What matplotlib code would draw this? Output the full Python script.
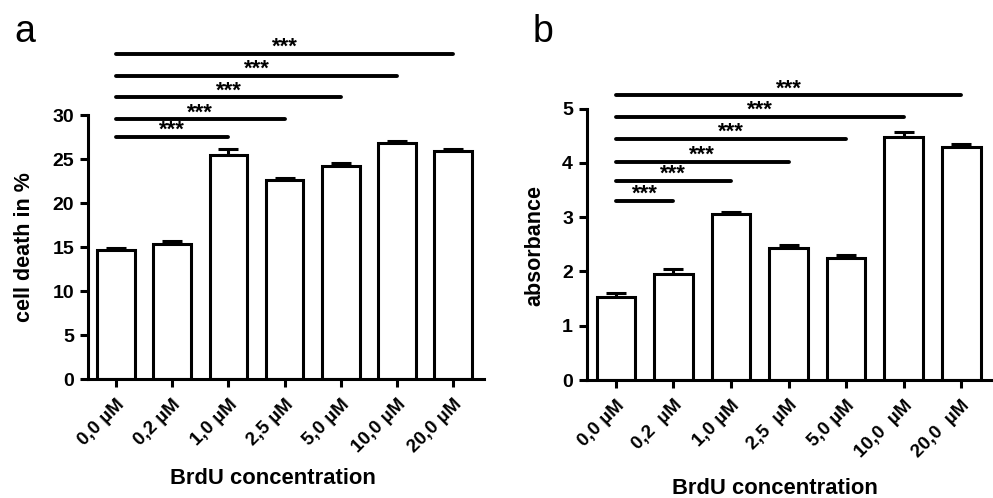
import matplotlib
matplotlib.use("Agg")
import matplotlib.pyplot as plt
import numpy as np

plt.rcParams['font.family'] = ['Liberation Sans', 'DejaVu Sans']

# ---- data ----
labels_a = ["0,0 µM", "0,2 µM", "1,0 µM", "2,5 µM", "5,0 µM", "10,0 µM", "20,0 µM"]
death_mean = [14.7, 15.3, 25.4, 22.6, 24.2, 26.8, 25.9]
death_err = [0.15, 0.35, 0.7, 0.2, 0.35, 0.3, 0.25]
sig_a_end = [2, 3, 4, 5, 6]
sig_a_y = [27.5, 29.5, 32.0, 34.4, 36.9]

labels_b = ["0,0 µM", "0,2  µM", "1,0 µM", "2,5  µM", "5,0 µM", "10,0  µM", "20,0  µM"]
abs_mean = [1.53, 1.96, 3.05, 2.43, 2.24, 4.48, 4.29]
abs_err = [0.08, 0.08, 0.04, 0.05, 0.07, 0.09, 0.05]
sig_b_end = [1, 2, 3, 4, 5, 6]
sig_b_y = [3.30, 3.66, 4.02, 4.44, 4.84, 5.24]

W, H = 993, 498
fig = plt.figure(figsize=(W / 100, H / 100), dpi=100)

LW = 2.2


def panel(rect, labels, means, errs, ends, sig_y, ylim, yticks):
    ax = fig.add_axes(rect)
    x = np.arange(len(means))
    ax.bar(x, means, width=0.67, color='white', edgecolor='black', linewidth=LW, zorder=2)
    ax.errorbar(x, means, yerr=[np.zeros(len(errs)), errs], fmt='none', ecolor='black',
                elinewidth=LW, capsize=7.5, capthick=LW, zorder=1)
    ax.set_xlim(-0.5, 6.55)
    ax.set_ylim(*ylim)
    ax.set_yticks(yticks)
    ax.set_xticks(x)
    ax.set_xticklabels(labels, rotation=45, ha='right', va='top', rotation_mode='anchor',
                       fontsize=13.5, fontweight='bold')
    for t in ax.get_yticklabels():
        t.set_fontsize(14)
        t.set_fontweight('bold')
    for s in ['top', 'right']:
        ax.spines[s].set_visible(False)
    for s in ['left', 'bottom']:
        ax.spines[s].set_linewidth(LW)
        ax.spines[s].set_zorder(3)
    ax.tick_params(axis='both', width=LW, length=6)
    ax.tick_params(axis='y', pad=4)
    ax.tick_params(axis='x', pad=6)
    for j, yy in zip(ends, sig_y):
        ax.plot([0, j], [yy, yy], color='black', lw=2.8, solid_capstyle='round', clip_on=False)
        ax.annotate('***', xy=(j / 2, yy), xytext=(0, 0.8), textcoords='offset points',
                    ha='center', va='baseline', fontsize=16, fontweight='bold',
                    annotation_clip=False)
    return ax


axA = panel([88 / W, 1 - 379 / H, (484 - 88) / W, (379 - 115) / H], labels_a, death_mean, death_err,
            sig_a_end, sig_a_y, (0, 30), range(0, 31, 5))
axB = panel([587 / W, 1 - 380 / H, (993 - 587) / W, (380 - 108.5) / H], labels_b, abs_mean, abs_err,
            sig_b_end, sig_b_y, (0, 5), range(0, 6))

fig.text(25 / W, 1 - 247 / H, "cell death in %", rotation=90, ha='center', va='center',
         fontsize=15.5, fontweight='bold')
fig.text(535 / W, 1 - 246 / H, "absorbance", rotation=90, ha='center', va='center',
         fontsize=15.5, fontweight='bold')
fig.text(273 / W, 1 - 478 / H, "BrdU concentration", ha='center', va='center',
         fontsize=15.8, fontweight='bold')
fig.text(775 / W, 1 - 488 / H, "BrdU concentration", ha='center', va='center',
         fontsize=15.8, fontweight='bold')
fig.text(14 / W, 1 - 42 / H, "a", ha='left', va='baseline', fontsize=27)
fig.text(533 / W, 1 - 42 / H, "b", ha='left', va='baseline', fontsize=27)

fig.savefig("out.png", dpi=100)
